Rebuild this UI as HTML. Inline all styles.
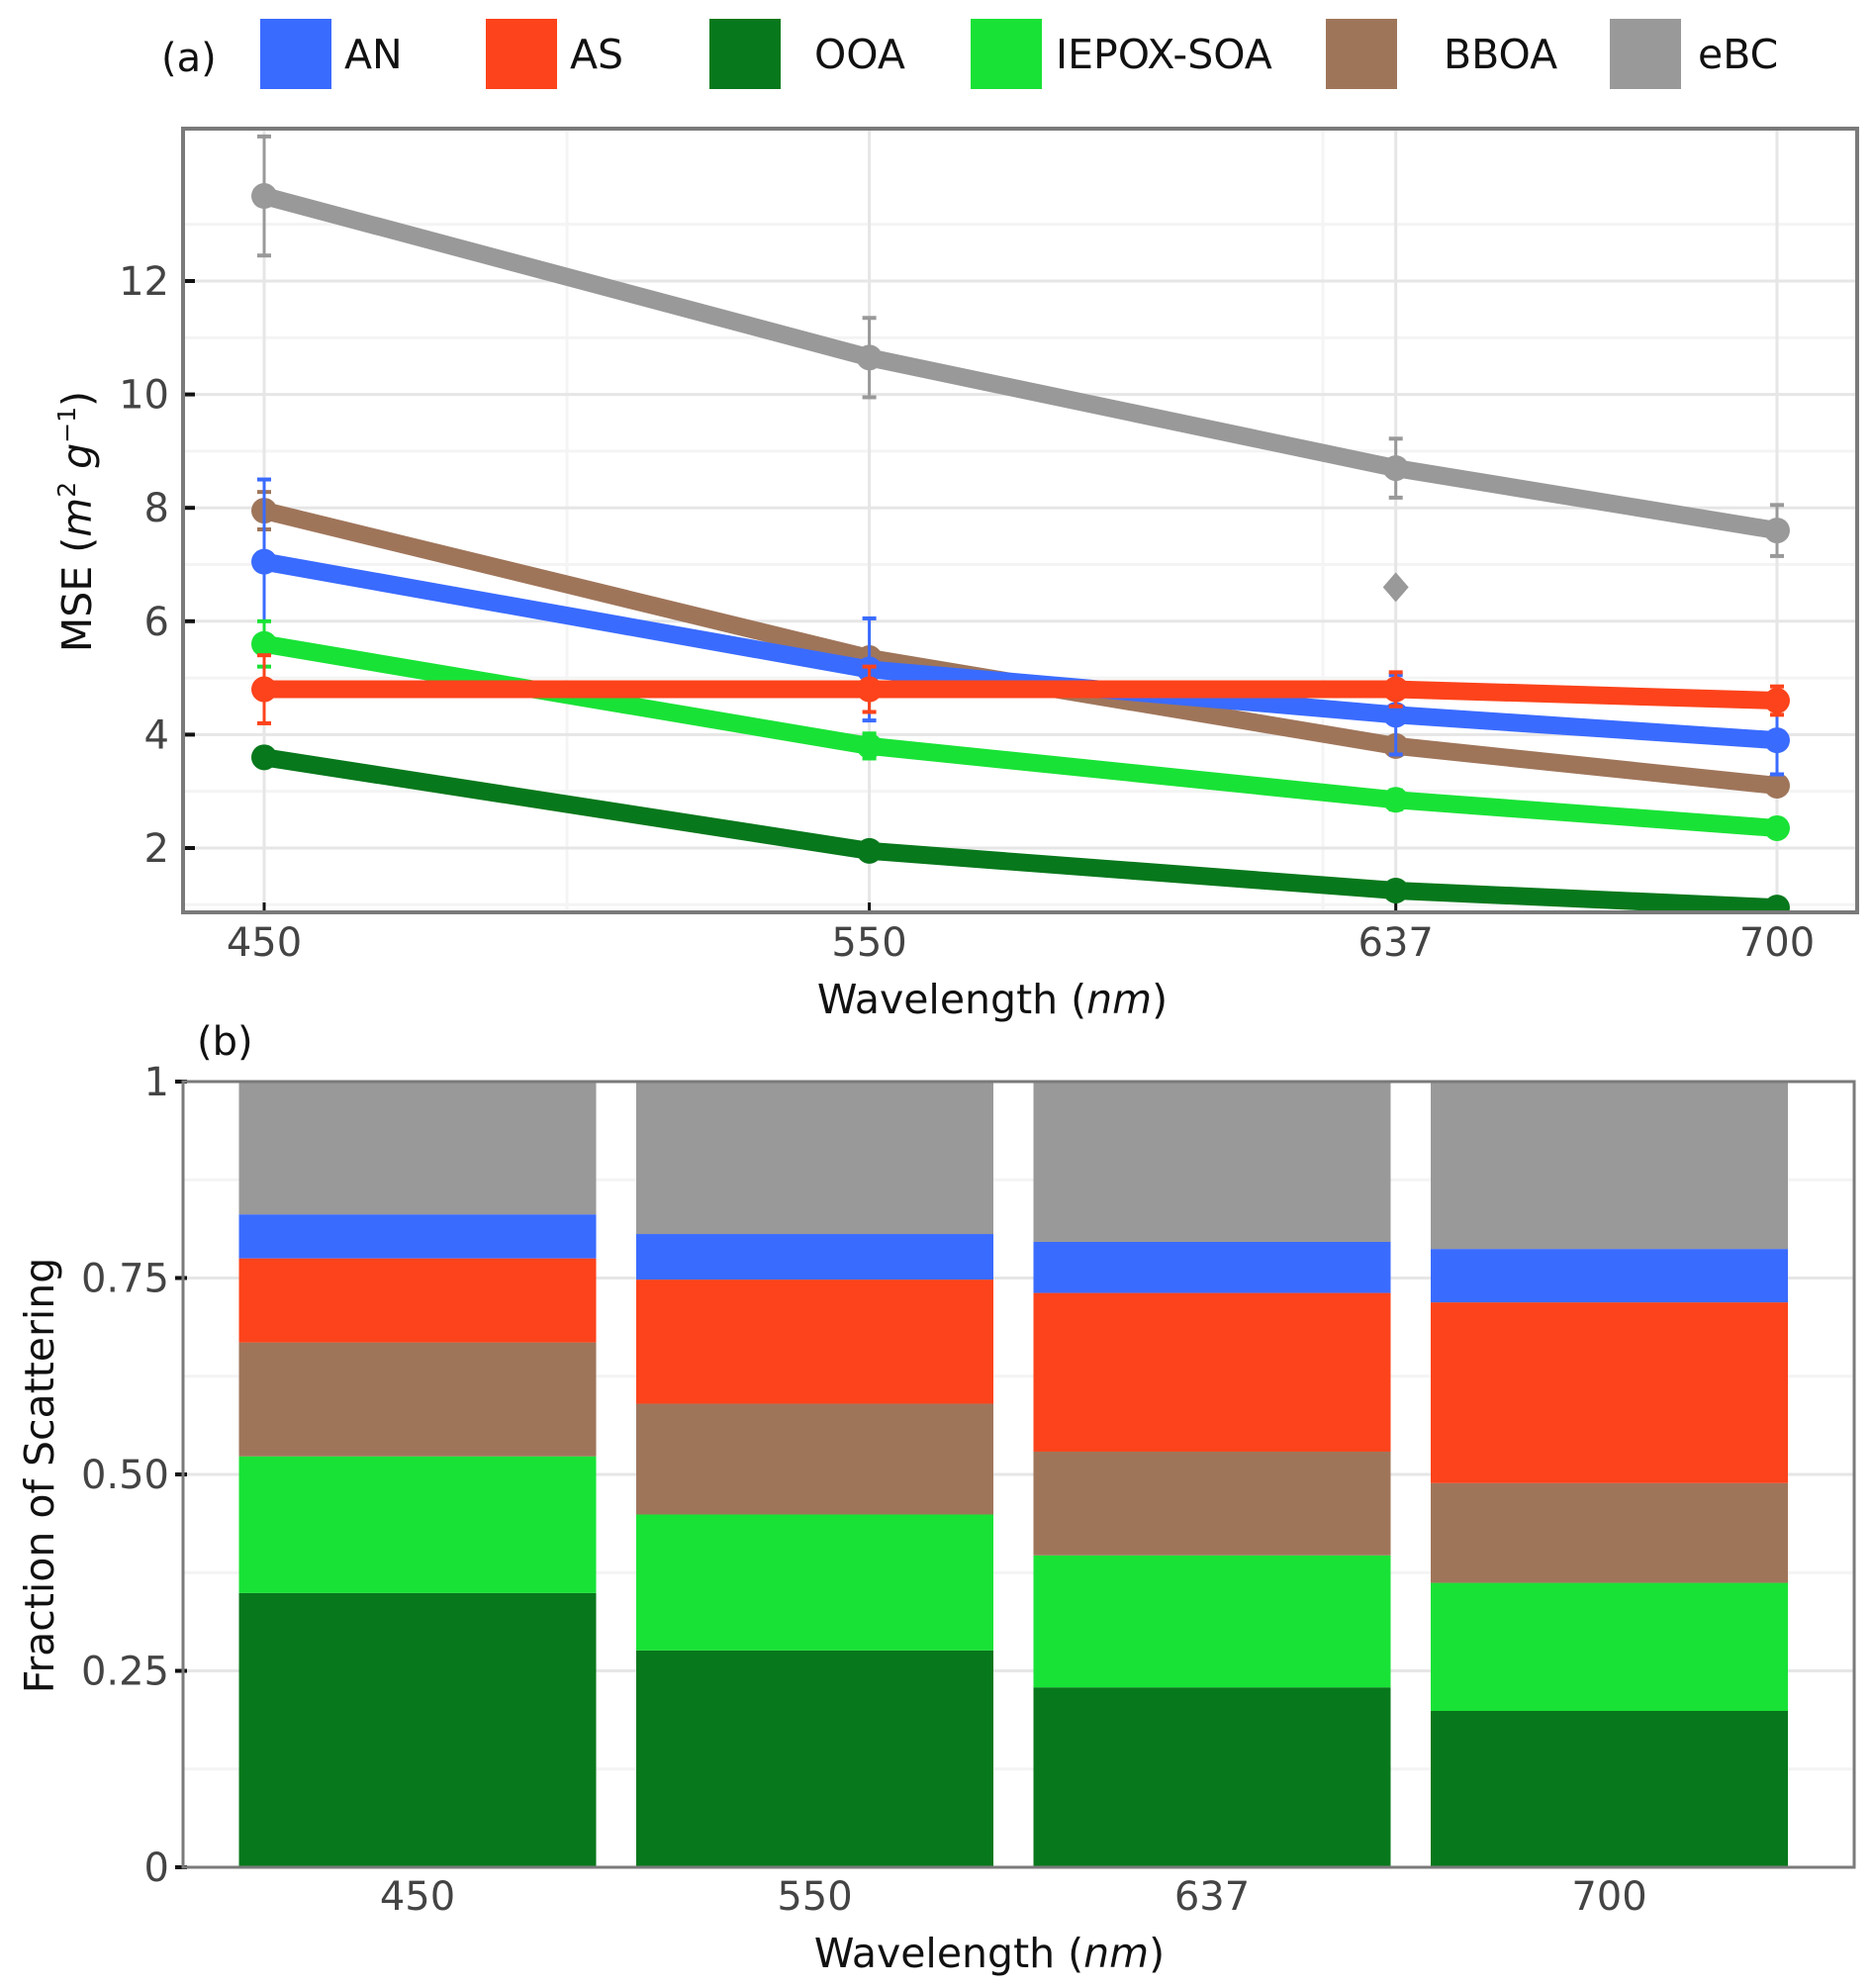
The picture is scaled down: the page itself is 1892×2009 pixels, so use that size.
<!DOCTYPE html>
<html><head><meta charset="utf-8">
<style>
html,body{margin:0;padding:0;background:#fff;}
svg{display:block;font-family:"DejaVu Sans","Liberation Sans",sans-serif;}
</style></head>
<body>
<svg id="chart" width="1892" height="2009" viewBox="0 0 1892 2009" xmlns="http://www.w3.org/2000/svg">
<g id="legend">
  <text x="163" y="72" font-size="40" fill="#111">(a)</text>
</g>
<g id="topchart"></g>
<g id="bottomchart"></g>
</svg>
<script>
const wavelengths = [450, 550, 637, 700];
const seriesNames = ["AN","AS","OOA","IEPOX-SOA","BBOA","eBC"];
const seriesColors = ["#3a6bff","#fc431b","#08781c","#19e236","#9f755a","#999999"];
const mseAN = [7.05, 5.15, 4.35, 3.9];
const mseAS = [4.8, 4.8, 4.8, 4.6];
const mseOOA = [3.6, 1.95, 1.25, 0.95];
const mseIEPOX = [5.6, 3.8, 2.85, 2.35];
const mseBBOA = [7.95, 5.35, 3.8, 3.1];
const mseEBC = [13.5, 10.65, 8.7, 7.6];
const errAN = [1.45, 0.9, 0.7, 0.6];
const errAS = [0.6, 0.4, 0.3, 0.25];
const errOOA = [0, 0, 0, 0];
const errIEPOX = [0.4, 0.22, 0.17, 0];
const errBBOA = [0.33, 0, 0, 0];
const errEBC = [1.05, 0.7, 0.52, 0.45];
const outlierX = [637];
const outlierY = [6.6];
const yTicksTop = [2,4,6,8,10,12];
const fracOOA = [0.349, 0.276, 0.229, 0.199];
const fracIEPOX = [0.174, 0.173, 0.168, 0.163];
const fracBBOA = [0.145, 0.141, 0.132, 0.127];
const fracAS = [0.107, 0.158, 0.202, 0.230];
const fracAN = [0.056, 0.058, 0.065, 0.068];
const fracEBC = [0.169, 0.194, 0.204, 0.213];
const yTicksBottom = [0, 0.25, 0.5, 0.75, 1];
const yTickLabelsBottom = ["0","0.25","0.50","0.75","1"];

const NS = "http://www.w3.org/2000/svg";
function mk(tag, attrs, parent){const e=document.createElementNS(NS,tag);for(const k in attrs)e.setAttribute(k,attrs[k]);parent.appendChild(e);return e;}

// legend
const legendG=document.getElementById('legend');
const legSqX=[263,491,717,981,1340,1627];
const legTxX=[348,576,823,1067,1459,1716];
seriesNames.forEach((n,i)=>{
  const r=mk('rect',{x:legSqX[i],y:19,width:72,height:71,fill:seriesColors[i]},legendG);
  
  
  const t=mk('text',{x:legTxX[i],y:69,'font-size':41,fill:'#111'},legendG);
  t.textContent=n;
  
  
});

// top chart
const topG=document.getElementById('topchart');
const L=185,R=1877,T=130,B=922;
const xs=w=>267+(w-450)*6.116;
const ys=v=>857-(v-2)*57.3;
const clip=mk('clipPath',{id:'clipTop'},topG);
mk('rect',{x:L,y:T,width:R-L,height:B-T},clip);
[1,3,5,7,9,11,13].forEach(v=>{mk('line',{x1:L,x2:R,y1:ys(v),y2:ys(v),stroke:'#f4f4f4','stroke-width':3},topG);});
[573,1337].forEach(x=>{mk('line',{x1:x,x2:x,y1:T,y2:B,stroke:'#f4f4f4','stroke-width':3},topG);});
yTicksTop.forEach(v=>{
  const g=mk('line',{x1:L,x2:R,y1:ys(v),y2:ys(v),stroke:'#e6e6e6','stroke-width':3},topG);
  
  
  mk('line',{x1:L,x2:L+12,y1:ys(v),y2:ys(v),stroke:'#111','stroke-width':4},topG);
  const t=mk('text',{x:L-14,y:ys(v)+14,'font-size':40,fill:'#444','text-anchor':'end'},topG);
  t.textContent=v;
  
  
});
wavelengths.forEach(w=>{
  const g=mk('line',{x1:xs(w),x2:xs(w),y1:T,y2:B,stroke:'#e6e6e6','stroke-width':3},topG);
  
  
  mk('line',{x1:xs(w),x2:xs(w),y1:B-10,y2:B,stroke:'#111','stroke-width':3},topG);
  const t=mk('text',{x:xs(w),y:966,'font-size':40,fill:'#444','text-anchor':'middle'},topG);
  t.textContent=w;
  
  
});
const plotG=mk('g',{'clip-path':'url(#clipTop)'},topG);
const drawOrder=[[mseEBC,errEBC,5],[mseBBOA,errBBOA,4],[mseAN,errAN,0],[mseIEPOX,errIEPOX,3],[mseOOA,errOOA,2],[mseAS,errAS,1]];
drawOrder.forEach(([vals,errs,ci])=>{
  const col=seriesColors[ci];
  const sg=mk('g',{},plotG);
  
  
  vals.forEach((v,i)=>{
    if(errs[i]>0){
      const x=xs(wavelengths[i]),y1=ys(v-errs[i]),y2=ys(v+errs[i]);
      mk('line',{x1:x,x2:x,y1:y1,y2:y2,stroke:col,'stroke-width':3},sg);
      mk('line',{x1:x-7,x2:x+7,y1:y1,y2:y1,stroke:col,'stroke-width':4},sg);
      mk('line',{x1:x-7,x2:x+7,y1:y2,y2:y2,stroke:col,'stroke-width':4},sg);
    }
  });
  const pts=vals.map((v,i)=>xs(wavelengths[i])+','+ys(v)).join(' ');
  const pl=mk('polyline',{points:pts,fill:'none',stroke:col,'stroke-width':18,'stroke-linejoin':'round'},sg);
  
  
  vals.forEach((v,i)=>{
    const c=mk('circle',{cx:xs(wavelengths[i]),cy:ys(v),r:13,fill:col},sg);
    
    
  });
});
outlierX.forEach((w,i)=>{
  const x=xs(w),y=ys(outlierY[i]);
  const d=mk('polygon',{points:`${x},${y-15} ${x+13},${y} ${x},${y+15} ${x-13},${y}`,fill:'#999999'},plotG);
  
  
});
mk('rect',{x:L,y:T,width:R-L,height:B-T,fill:'none',stroke:'#7a7a7a','stroke-width':4},topG);
let tx=mk('text',{x:1003,y:1024,'font-size':41,fill:'#111','text-anchor':'middle'},topG);
tx.innerHTML='Wavelength (<tspan font-style="italic">nm</tspan>)';


tx=mk('text',{x:0,y:0,'font-size':41,fill:'#111','text-anchor':'middle',transform:'translate(92,527) rotate(-90)'},topG);
tx.innerHTML='MSE (<tspan font-style="italic">m</tspan><tspan font-size="25" dy="-16">2</tspan><tspan dy="16"> </tspan><tspan font-style="italic">g</tspan><tspan font-size="25" dy="-16">−1</tspan><tspan dy="16">)</tspan>';



// bottom chart
const botG=document.getElementById('bottomchart');
const L2=185,R2=1874,T2=1093,B2=1887;
const yb=v=>B2-v*(B2-T2);
const xc=i=>422+i*401.5;
const bw=361;
tx=mk('text',{x:199,y:1066,'font-size':40,fill:'#111'},botG);
tx.textContent='(b)';


[0.125,0.375,0.625,0.875].forEach(v=>mk('line',{x1:L2,x2:R2,y1:yb(v),y2:yb(v),stroke:'#f4f4f4','stroke-width':3},botG));
yTicksBottom.forEach((v,i)=>{
  mk('line',{x1:L2,x2:R2,y1:yb(v),y2:yb(v),stroke:'#e6e6e6','stroke-width':3},botG);
  mk('line',{x1:L2-8,x2:L2+4,y1:yb(v),y2:yb(v),stroke:'#111','stroke-width':4},botG);
  const tt=mk('text',{x:L2-14,y:yb(v)+14,'font-size':40,fill:'#444','text-anchor':'end'},botG);
  tt.textContent=yTickLabelsBottom[i];
  
  
});
const stackOrder=[[fracOOA,2],[fracIEPOX,3],[fracBBOA,4],[fracAS,1],[fracAN,0],[fracEBC,5]];
wavelengths.forEach((w,i)=>{
  let base=0;
  stackOrder.forEach(([arr,ci])=>{
    const v=arr[i];
    const r=mk('rect',{x:xc(i)-bw/2,y:yb(base+v),width:bw,height:yb(base)-yb(base+v),fill:seriesColors[ci]},botG);
    
    
    base+=v;
  });
  const tt=mk('text',{x:xc(i),y:1930,'font-size':40,fill:'#444','text-anchor':'middle'},botG);
  tt.textContent=w;
  
  
});
mk('rect',{x:L2,y:T2,width:R2-L2,height:B2-T2,fill:'none',stroke:'#7a7a7a','stroke-width':3},botG);
tx=mk('text',{x:1000,y:1988,'font-size':41,fill:'#111','text-anchor':'middle'},botG);
tx.innerHTML='Wavelength (<tspan font-style="italic">nm</tspan>)';


tx=mk('text',{x:0,y:0,'font-size':41,fill:'#111','text-anchor':'middle',transform:'translate(54,1491) rotate(-90)'},botG);
tx.textContent='Fraction of Scattering';


</script>
</body></html>
